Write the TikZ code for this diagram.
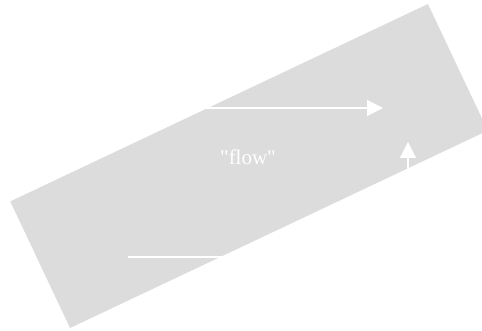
\documentclass[tikz,border=0pt]{standalone}
\usepackage{fontspec}
\setmainfont{Liberation Serif}
\usetikzlibrary{arrows.meta,positioning}
\definecolor{bandgray}{RGB}{220,220,220}

\begin{document}
\begin{tikzpicture}[x=1pt, y=-1pt,
    band/.style={rectangle, fill=bandgray, rotate=25.3, minimum width=462pt, minimum height=140pt, inner sep=0pt},
    flowline/.style={draw=white, line width=1.2pt},
    flowarrow/.style={flowline, -{Triangle[length=16pt, width=16pt]}},
    flowtext/.style={text=white, font=\fontsize{21}{24}\selectfont}
]
\useasboundingbox (0,0) rectangle (482,331);

\node[band] (band) at (249,166) {};
\node[flowtext] (flow) at (248,157) {\textquotedbl flow\textquotedbl};

\coordinate (topstart) at (128,108);
\coordinate (toptip) at (383,108);
\coordinate (botstart) at (128,257);
\coordinate (turn) at (408,257);
\coordinate (uptip) at (408,142);

\draw[flowarrow] (topstart) -- (toptip);
\draw[flowarrow] (botstart) -- (turn) -- (uptip);

\end{tikzpicture}
\end{document}
